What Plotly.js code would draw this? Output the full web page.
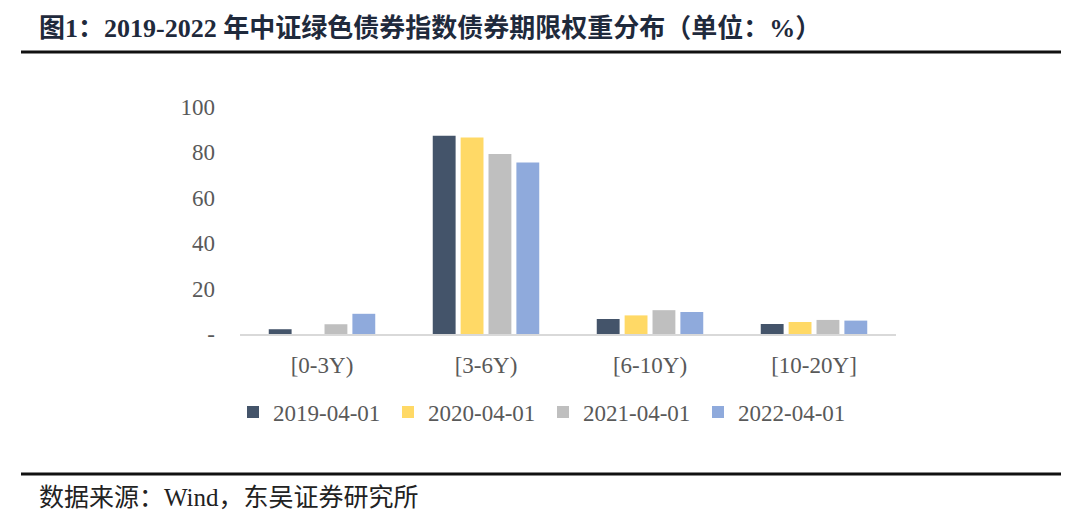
<!DOCTYPE html>
<html>
<head>
<meta charset="utf-8">
<script src="https://cdn.plot.ly/plotly-3.0.1.min.js"></script>
<style>
  html, body { margin: 0; padding: 0; background: #ffffff; }
  #chart { width: 1080px; height: 532px; }
</style>
</head>
<body>
<div id="chart"></div>
<script>
const categories = ["[0-3Y)", "[3-6Y)", "[6-10Y)", "[10-20Y]"];
const seriesNames = ["2019-04-01", "2020-04-01", "2021-04-01", "2022-04-01"];
const values2019 = [2.1, 87.3, 6.6, 4.4];
const values2020 = [0, 86.6, 8.2, 5.3];
const values2021 = [4.3, 79.3, 10.5, 6.2];
const values2022 = [8.9, 75.6, 9.7, 5.9];
const seriesColors = ["#44546A", "#FFD966", "#BFBFBF", "#8FAADC"];
const yTickVals = [0, 20, 40, 60, 80, 100];
const yTickText = ["-", "20", "40", "60", "80", "100"];
const titleText = "<b>图1：2019-2022 年中证绿色债券指数债券期限权重分布（单位：%）</b>";
const sourceText = "数据来源：Wind，东吴证券研究所";

const allValues = [values2019, values2020, values2021, values2022];
const serif = "'Liberation Serif', 'Times New Roman', 'Noto Sans CJK SC', serif";

const traces = allValues.map((vals, i) => ({
  type: "bar",
  name: seriesNames[i],
  x: categories,
  y: vals,
  marker: { color: seriesColors[i] },
  hoverinfo: "x+y+name"
}));

// plot area in pixels: x 240..896, y 107..334
const L = 240, R = 896, T = 107, B = 334;
const px = v => (v - L) / (R - L);
const py = v => (B - v) / (B - T);

const layout = {
  width: 1080,
  height: 532,
  margin: { l: L, r: 1080 - R, t: T, b: 532 - B, pad: 0 },
  paper_bgcolor: "#ffffff",
  plot_bgcolor: "#ffffff",
  barmode: "group",
  bargap: 0.32,
  bargroupgap: 0.18,
  font: { family: serif, size: 22, color: "#595959" },
  xaxis: {
    type: "category",
    showline: true,
    linecolor: "#D9D9D9",
    linewidth: 2,
    ticks: "",
    showgrid: false,
    zeroline: false,
    tickfont: { family: serif, size: 23, color: "#595959" },
    ticklabelstandoff: 9,
    fixedrange: true
  },
  yaxis: {
    range: [0, 100],
    tickvals: yTickVals,
    ticktext: yTickText,
    showgrid: false,
    zeroline: false,
    showline: false,
    ticks: "",
    tickfont: { family: serif, size: 23, color: "#595959" },
    ticklabelstandoff: 24,
    fixedrange: true
  },
  showlegend: true,
  legend: {
    orientation: "h",
    x: px(233),
    xanchor: "left",
    y: py(412),
    yanchor: "middle",
    font: { family: serif, size: 23, color: "#595959" },
    entrywidth: 110,
    entrywidthmode: "pixels",
    itemwidth: 30,
    tracegroupgap: 0,
    bgcolor: "rgba(0,0,0,0)"
  },
  shapes: [
    { type: "line", xref: "paper", yref: "paper", x0: px(21), x1: px(1061), y0: py(52), y1: py(52),
      line: { color: "#111111", width: 3 } },
    { type: "line", xref: "paper", yref: "paper", x0: px(21), x1: px(1061), y0: py(474), y1: py(474),
      line: { color: "#111111", width: 3 } }
  ],
  annotations: [
    { text: titleText, xref: "paper", yref: "paper", x: px(37), y: py(28), xanchor: "left", yanchor: "middle",
      showarrow: false, font: { family: serif, size: 26, color: "#1F2A3C" } },
    { text: sourceText, xref: "paper", yref: "paper", x: px(37), y: py(498), xanchor: "left", yanchor: "middle",
      showarrow: false, font: { family: serif, size: 25, color: "#222222" } }
  ]
};

Plotly.newPlot("chart", traces, layout, { displayModeBar: false, staticPlot: false });
</script>
</body>
</html>
